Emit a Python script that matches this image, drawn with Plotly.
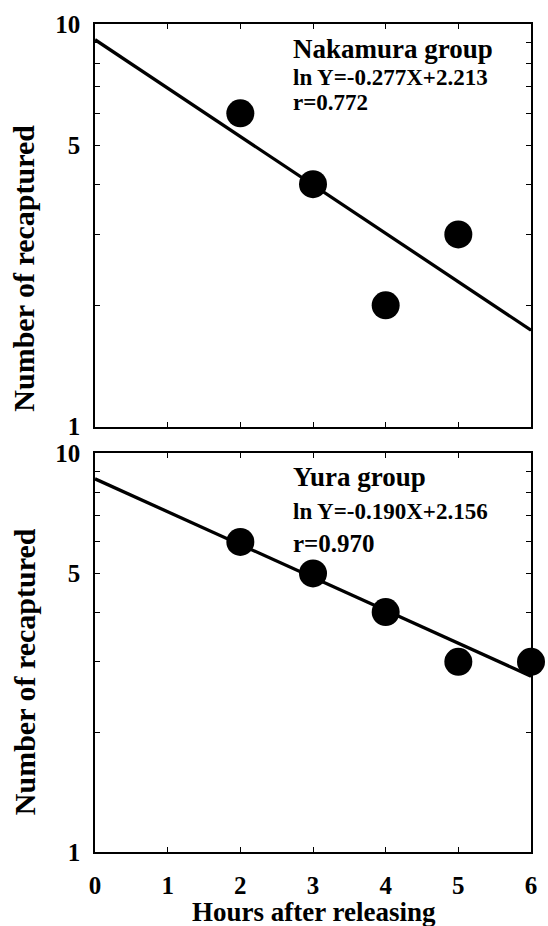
import math
import plotly.graph_objects as go

# ---- data ----
hours_nakamura = [2, 3, 4, 5]
recaptured_nakamura = [6, 4, 2, 3]
fit_nakamura = {"slope": -0.277, "intercept": 2.213, "r": 0.772}

hours_yura = [2, 3, 4, 5, 6]
recaptured_yura = [6, 5, 4, 3, 3]
fit_yura = {"slope": -0.190, "intercept": 2.156, "r": 0.970}

fit_x = [0, 6]
x_ticks = [0, 1, 2, 3, 4, 5, 6]
y_ticks = [1, 2, 3, 4, 5, 6, 7, 8, 9, 10]
y_ticktext = ["1", "", "", "", "5", "", "", "", "", "10"]

FONT = "Liberation Serif"
W, H = 548, 926
L, R, T, B = 95, 11, 23, 74
plot_h = H - T - B  # 829


def py(px):
    """pixel y (from top) -> paper fraction"""
    return (H - B - px) / plot_h


fig = go.Figure()

for (hrs, rec, fit, xa, ya) in [
    (hours_nakamura, recaptured_nakamura, fit_nakamura, "x", "y"),
    (hours_yura, recaptured_yura, fit_yura, "x2", "y2"),
]:
    fy = [math.exp(fit["intercept"] + fit["slope"] * x) for x in fit_x]
    fig.add_trace(go.Scatter(x=fit_x, y=fy, mode="lines",
                             line=dict(color="black", width=3.3),
                             xaxis=xa, yaxis=ya, showlegend=False,
                             cliponaxis=False))
    fig.add_trace(go.Scatter(x=hrs, y=rec, mode="markers",
                             marker=dict(color="black", size=28),
                             xaxis=xa, yaxis=ya, showlegend=False,
                             cliponaxis=False))

top_dom = [py(426), 1.0]
bot_dom = [0.0, py(453)]

xcommon = dict(range=[0, 6], tickvals=x_ticks, ticks="inside", ticklen=5,
               tickwidth=1, tickcolor="black", showline=True, linecolor="black",
               linewidth=1.5, mirror="allticks", showgrid=False, zeroline=False,
               tickfont=dict(family=FONT, size=25, color="black", weight="bold"))
ycommon = dict(type="log", range=[0, 1], tickvals=y_ticks, ticktext=y_ticktext,
               ticks="inside", ticklen=5, tickwidth=1, tickcolor="black",
               showline=True, linecolor="black", linewidth=1.5, mirror="allticks",
               showgrid=False, zeroline=False, ticklabelstandoff=8,
               tickfont=dict(family=FONT, size=25, color="black", weight="bold"))

fig.update_layout(
    width=W, height=H,
    margin=dict(l=L, r=R, t=T, b=B),
    paper_bgcolor="white", plot_bgcolor="white",
    font=dict(family=FONT, color="black", weight="bold"),
    xaxis=dict(**xcommon, domain=[0, 1], anchor="y", showticklabels=False),
    yaxis=dict(**ycommon, domain=top_dom, anchor="x"),
    xaxis2=dict(**xcommon, domain=[0, 1], anchor="y2", ticklabelstandoff=10),
    yaxis2=dict(**ycommon, domain=bot_dom, anchor="x2"),
)


def ann(text, x, y, size, xref="paper", yref="paper", xanchor="left",
        yanchor="middle", angle=0):
    fig.add_annotation(text=text, x=x, y=y, xref=xref, yref=yref,
                       xanchor=xanchor, yanchor=yanchor, showarrow=False,
                       textangle=angle,
                       font=dict(family=FONT, size=size, color="black",
                                 weight="bold"))


# panel texts
ann("Nakamura group", 0.449, 0.937, 27, "x domain", "y domain")
ann(f"ln Y={fit_nakamura['slope']:.3f}X+{fit_nakamura['intercept']:.3f}",
    0.449, 0.866, 23, "x domain", "y domain")
ann(f"r={fit_nakamura['r']:.3f}", 0.449, 0.805, 23, "x domain", "y domain")

ann("Yura group", 0.449, 0.940, 27, "x2 domain", "y2 domain")
ann(f"ln Y={fit_yura['slope']:.3f}X+{fit_yura['intercept']:.3f}",
    0.449, 0.855, 23, "x2 domain", "y2 domain")
ann(f"r={fit_yura['r']:.3f}", 0.449, 0.774, 25, "x2 domain", "y2 domain")

# axis titles
ycx = (23 - L) / (W - L - R)
ann("Number of recaptured", ycx, py(267), 30, xanchor="center", angle=-90)
ann("Number of recaptured", ycx, py(671), 30, xanchor="center", angle=-90)
ann("Hours after releasing", (317 - L) / (W - L - R), py(912), 27,
    xanchor="center")

fig.write_html("out.html",
               config={"displayModeBar": False},
               post_script="document.body.style.margin='0';"
                           "document.body.style.overflow='hidden';")
